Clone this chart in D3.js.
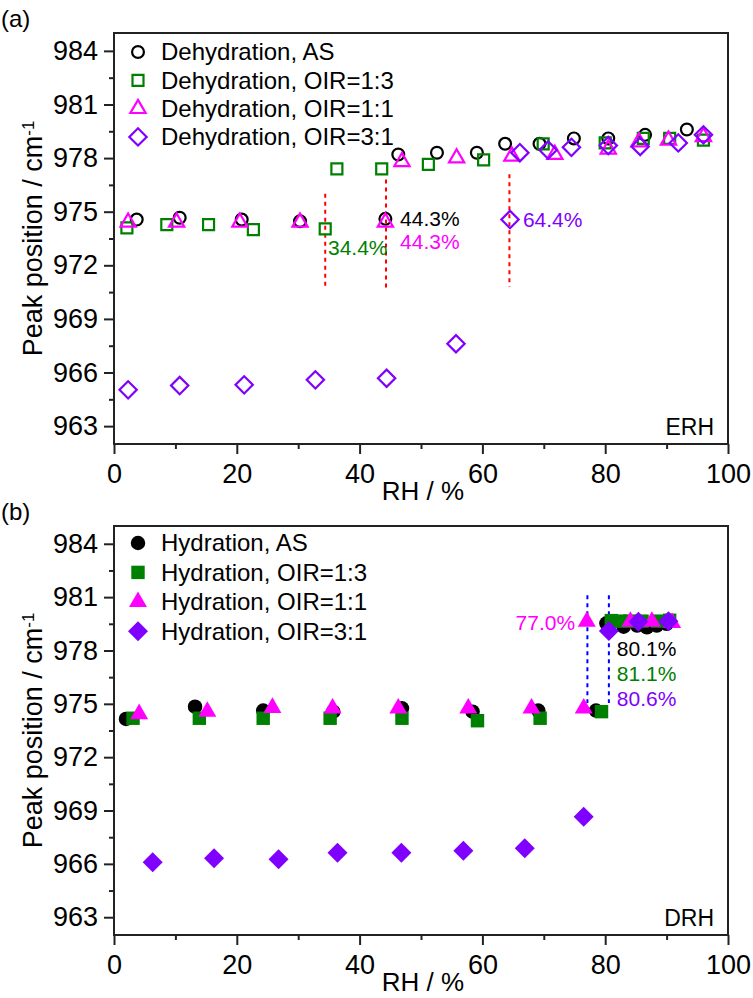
<!DOCTYPE html>
<html>
<head>
<style>
  body { margin: 0; background: white; }
  svg text { font-family: Arial, "Liberation Sans", sans-serif; fill: #000; }
</style>
</head>
<body>
<script src="https://d3js.org/d3.v7.min.js"></script>
<script>
var width = 753, height = 998;

var xTicks = [0, 20, 40, 60, 80, 100];
var xMinor = [10, 30, 50, 70, 90];
var yTicks = [963, 966, 969, 972, 975, 978, 981, 984];
var yMinor = [964.5, 967.5, 970.5, 973.5, 976.5, 979.5, 982.5];

// (a) dehydration  [RH %, peak position / cm-1]
var dehyAS = [[3.7, 974.56], [10.7, 974.66], [20.8, 974.56], [30.3, 974.47], [44.2, 974.6],
  [46.3, 978.2], [52.6, 978.3], [59.1, 978.3], [63.7, 978.8], [69.3, 978.8], [74.9, 979.1],
  [80.5, 979.1], [86.5, 979.3], [93.3, 979.6]];
var dehy13 = [[2.1, 974.1], [8.6, 974.28], [15.4, 974.28], [22.7, 974.0], [34.4, 974.04],
  [36.3, 977.4], [43.6, 977.4], [51.2, 977.65], [60.2, 977.9], [69.9, 978.8], [80.0, 978.85],
  [86.2, 979.1], [90.5, 979.1], [96.0, 979.0]];
var dehy11 = [[2.3, 974.41], [10.2, 974.41], [20.5, 974.41], [30.3, 974.41], [44.2, 974.41],
  [46.9, 977.8], [55.8, 978.0], [64.8, 978.1], [71.8, 978.2], [80.5, 978.5], [85.5, 978.9],
  [90.3, 979.0], [96.0, 979.2]];
var dehy31 = [[2.3, 965.03], [10.7, 965.27], [21.2, 965.31], [32.8, 965.59], [44.4, 965.68],
  [55.7, 967.61], [64.5, 974.56], [66.1, 978.3], [70.7, 978.45], [74.5, 978.6], [80.5, 978.7],
  [85.7, 978.65], [91.9, 978.85], [96.0, 979.3]];

// (b) hydration
var hydAS = [[1.95, 974.15], [13.2, 974.84], [24.3, 974.62], [35.7, 974.56], [46.9, 974.75],
  [58.4, 974.56], [69.1, 974.62], [78.5, 974.62], [80.2, 979.53], [83.0, 979.34], [85.2, 979.4],
  [86.8, 979.3], [88.4, 979.4], [90.0, 979.5]];
var hyd13 = [[3.1, 974.19], [13.9, 974.19], [24.3, 974.19], [35.2, 974.19], [46.9, 974.19],
  [59.2, 974.05], [69.4, 974.19], [79.4, 974.56], [81.0, 979.68], [82.5, 979.65], [84.0, 979.65],
  [86.0, 979.65], [88.5, 979.65], [90.5, 979.7]];
var hyd11 = [[4.1, 974.43], [15.2, 974.56], [25.8, 974.78], [35.6, 974.75], [46.3, 974.75],
  [57.7, 974.75], [68.0, 974.75], [76.5, 974.75], [77.0, 979.62], [84.1, 979.62], [87.6, 979.62],
  [90.9, 979.55]];
var hyd31 = [[6.3, 966.09], [16.3, 966.31], [26.8, 966.26], [36.4, 966.63], [46.8, 966.63],
  [56.9, 966.74], [66.9, 966.88], [76.5, 968.65], [80.6, 979.1], [85.4, 979.62], [90.3, 979.65]];

// transition markers: RH, from, to
var linesA = [[34.4, 976.0, 970.7], [44.3, 976.8, 970.7], [64.4, 977.1, 970.8]];
var linesB = [[77.1, 981.1, 975.05], [80.6, 981.1, 975.05]];

var colors = { AS: "#000000", r13: "#008000", r11: "#ff00ff", r31: "#8000ff" };

var svg = d3.select("body").append("svg")
    .attr("width", width).attr("height", height);

var x = d3.scaleLinear().domain([0, 100]).range([114, 728]);

function shape(kind, size) {
  var t = { circle: d3.symbolCircle, square: d3.symbolSquare,
            triangle: d3.symbolTriangle, diamond: d3.symbolSquare }[kind];
  return d3.symbol().type(t).size(size)();
}

function drawPanel(opt) {
  var y = d3.scaleLinear().domain([962, 985]).range([opt.bottom, opt.top]);
  var g = svg.append("g");

  // ticks
  var ax = function(a, vals, len) {
    return a.tickValues(vals).tickSize(len).tickPadding(4);
  };
  var gl = g.append("g").attr("transform", "translate(" + x(0) + ",0)")
      .call(ax(d3.axisLeft(y), yTicks, 10).tickFormat(d3.format("d")));
  g.append("g").attr("transform", "translate(" + x(0) + ",0)")
      .call(ax(d3.axisLeft(y), yMinor, 5).tickFormat(""));
  var gb = g.append("g").attr("transform", "translate(0," + opt.bottom + ")")
      .call(ax(d3.axisBottom(x), xTicks, 10).tickFormat(d3.format("d")));
  g.append("g").attr("transform", "translate(0," + opt.bottom + ")")
      .call(ax(d3.axisBottom(x), xMinor, 5).tickFormat(""));
  g.selectAll(".domain").remove();
  g.selectAll(".tick line").attr("stroke", "#222").attr("stroke-width", 2);
  gl.selectAll("text").style("font-size", "27px").attr("dx", "-2");
  gb.selectAll("text").style("font-size", "27px").attr("dy", "0.92em");

  g.append("rect")
      .attr("x", x(0)).attr("y", opt.top)
      .attr("width", x(100) - x(0)).attr("height", opt.bottom - opt.top)
      .attr("fill", "none").attr("stroke", "#222").attr("stroke-width", 2);

  // dotted transition lines
  g.selectAll(".tline").data(opt.lines).enter().append("line")
      .attr("x1", d => x(d[0])).attr("x2", d => x(d[0]))
      .attr("y1", d => y(d[1])).attr("y2", d => y(d[2]))
      .attr("stroke", opt.lineColor).attr("stroke-width", 2)
      .attr("stroke-dasharray", "4,4");

  // series
  opt.series.forEach(s => {
    g.append("g").selectAll("path").data(s.data).enter().append("path")
        .attr("d", shape(s.kind, s.size))
        .attr("transform", d => "translate(" + x(d[0]) + "," + y(d[1]) + ")" +
              (s.kind == "diamond" ? " rotate(45)" : ""))
        .attr("fill", opt.filled ? s.color : "none")
        .attr("stroke", opt.filled ? "none" : s.color)
        .attr("stroke-width", 2.2);
  });

  // annotations
  g.selectAll(".ann").data(opt.notes).enter().append("text")
      .attr("x", d => x(d.rh)).attr("y", d => y(d.v))
      .attr("dy", "0.35em")
      .attr("text-anchor", d => d.anchor || "start")
      .style("font-size", "21px")
      .style("fill", d => d.color)
      .text(d => d.text);

  // legend
  var lg = g.append("g");
  opt.series.forEach((s, i) => {
    var ly = opt.legendTop + i * opt.legendStep;
    lg.append("path")
        .attr("d", shape(s.kind, s.size))
        .attr("transform", "translate(138," + ly + ")" + (s.kind == "diamond" ? " rotate(45)" : ""))
        .attr("fill", opt.filled ? s.color : "none")
        .attr("stroke", opt.filled ? "none" : s.color)
        .attr("stroke-width", 2.2);
    lg.append("text").attr("x", 161).attr("y", ly).attr("dy", "0.35em")
        .style("font-size", "24px").text(s.name);
  });

  // labels
  g.append("text").attr("x", 714).attr("y", opt.bottom - 9)
      .attr("text-anchor", "end").style("font-size", "23px").text(opt.tag);
  g.append("text").attr("x", 1).attr("y", opt.top - 6)
      .style("font-size", "24px").text(opt.panel);
  g.append("text").attr("x", (x(0) + x(100)) / 2 + 2).attr("y", opt.bottom + 56)
      .attr("text-anchor", "middle").style("font-size", "26px").text("RH / %");

  var yt = g.append("text")
      .attr("transform", "translate(42," + (opt.top + opt.bottom) / 2 + ") rotate(-90)")
      .attr("text-anchor", "middle").style("font-size", "27px");
  yt.append("tspan").text("Peak position / cm");
  yt.append("tspan").attr("dy", "-0.5em").style("font-size", "17px").text("-1");
}

drawPanel({
  top: 33, bottom: 444, panel: "(a)", tag: "ERH", filled: false,
  legendTop: 52, legendStep: 28.3, lines: linesA, lineColor: "#ff0000",
  series: [
    { name: "Dehydration, AS", data: dehyAS, kind: "circle", size: 110, color: colors.AS },
    { name: "Dehydration, OIR=1:3", data: dehy13, kind: "square", size: 121, color: colors.r13 },
    { name: "Dehydration, OIR=1:1", data: dehy11, kind: "triangle", size: 100, color: colors.r11 },
    { name: "Dehydration, OIR=3:1", data: dehy31, kind: "diamond", size: 150, color: colors.r31 }
  ],
  notes: [
    { text: "44.3%", rh: 46.6, v: 974.6, color: colors.AS },
    { text: "44.3%", rh: 46.6, v: 973.35, color: colors.r11 },
    { text: "34.4%", rh: 34.85, v: 973.0, color: colors.r13 },
    { text: "64.4%", rh: 66.6, v: 974.56, color: colors.r31 }
  ]
});

drawPanel({
  top: 526, bottom: 935, panel: "(b)", tag: "DRH", filled: true,
  legendTop: 543, legendStep: 29.4, lines: linesB, lineColor: "#0000ff",
  series: [
    { name: "Hydration, AS", data: hydAS, kind: "circle", size: 165, color: colors.AS },
    { name: "Hydration, OIR=1:3", data: hyd13, kind: "square", size: 180, color: colors.r13 },
    { name: "Hydration, OIR=1:1", data: hyd11, kind: "triangle", size: 140, color: colors.r11 },
    { name: "Hydration, OIR=3:1", data: hyd31, kind: "diamond", size: 200, color: colors.r31 }
  ],
  notes: [
    { text: "77.0%", rh: 75.1, v: 979.56, color: colors.r11, anchor: "end" },
    { text: "80.1%", rh: 81.9, v: 978.12, color: colors.AS },
    { text: "81.1%", rh: 81.9, v: 976.72, color: colors.r13 },
    { text: "80.6%", rh: 81.9, v: 975.31, color: colors.r31 }
  ]
});
</script>
</body>
</html>
